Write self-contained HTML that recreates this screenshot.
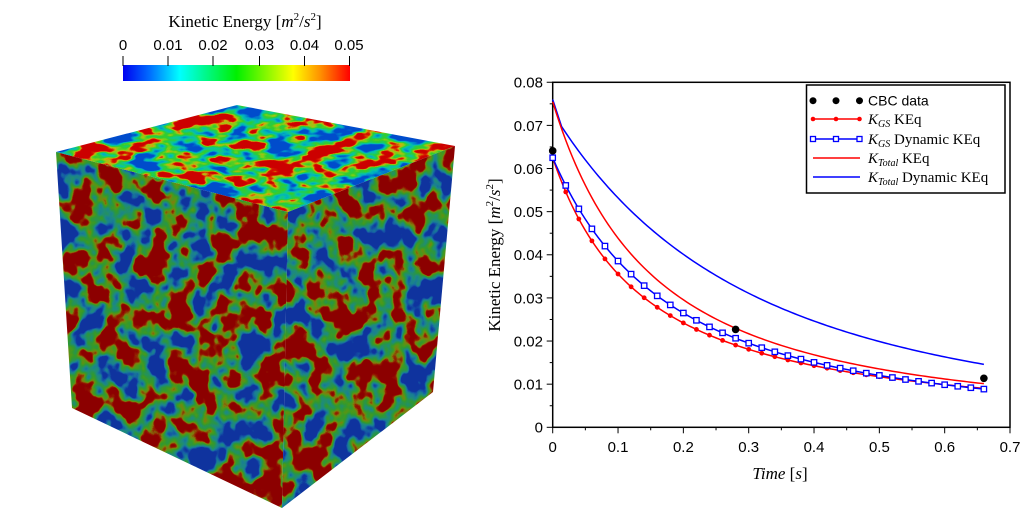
<!DOCTYPE html>
<html><head><meta charset="utf-8">
<style>
html,body{margin:0;padding:0;background:#fff;}
body{width:1036px;height:527px;overflow:hidden;}
svg{display:block;}
.sans{font-family:"Liberation Sans",sans-serif;}
.serif{font-family:"Liberation Serif",serif;}
</style></head>
<body>
<svg id="s" width="1036" height="527" viewBox="0 0 1036 527" xmlns="http://www.w3.org/2000/svg">
<defs>
  <linearGradient id="jet" x1="0" x2="1" y1="0" y2="0">
    <stop offset="0" stop-color="#0000f0"/>
    <stop offset="0.12" stop-color="#0070ff"/>
    <stop offset="0.25" stop-color="#00ffff"/>
    <stop offset="0.5" stop-color="#00f000"/>
    <stop offset="0.75" stop-color="#ffff00"/>
    <stop offset="0.87" stop-color="#ff9000"/>
    <stop offset="1" stop-color="#ff0000"/>
  </linearGradient>
  <filter id="nTop" x="0" y="0" width="100%" height="100%" color-interpolation-filters="sRGB">
    <feTurbulence type="fractalNoise" baseFrequency="0.03 0.07" numOctaves="3" seed="7"/>
    <feColorMatrix type="matrix" values="3.5 0 0 0 -1.25  3.5 0 0 0 -1.25  3.5 0 0 0 -1.25  0 0 0 0 1"/>
    <feComponentTransfer>
      <feFuncR type="table" tableValues="0 0 0 .05 .12 .20 .45 .80 .85 .80 .80"/>
      <feFuncG type="table" tableValues=".30 .50 .70 .78 .80 .80 .82 .70 .10 0 0"/>
      <feFuncB type="table" tableValues=".80 .80 .75 .60 .35 .18 .10 .05 0 0 0"/>
      <feFuncA type="table" tableValues="1 1"/>
    </feComponentTransfer>
  </filter>
  <filter id="nL" x="0" y="0" width="100%" height="100%" color-interpolation-filters="sRGB">
    <feTurbulence type="fractalNoise" baseFrequency="0.042 0.036" numOctaves="3" seed="11"/>
    <feColorMatrix type="matrix" values="3.5 0 0 0 -1.25  3.5 0 0 0 -1.25  3.5 0 0 0 -1.25  0 0 0 0 1"/>
    <feComponentTransfer>
      <feFuncR type="table" tableValues=".06 .08 .10 .12 .15 .20 .30 .50 .58 .55 .55"/>
      <feFuncG type="table" tableValues=".20 .35 .50 .55 .58 .60 .60 .50 .10 0 0"/>
      <feFuncB type="table" tableValues=".62 .65 .58 .48 .32 .18 .10 .05 0 0 0"/>
      <feFuncA type="table" tableValues="1 1"/>
    </feComponentTransfer>
  </filter>
  <filter id="nR" x="0" y="0" width="100%" height="100%" color-interpolation-filters="sRGB">
    <feTurbulence type="fractalNoise" baseFrequency="0.042 0.036" numOctaves="3" seed="23"/>
    <feColorMatrix type="matrix" values="3.5 0 0 0 -1.25  3.5 0 0 0 -1.25  3.5 0 0 0 -1.25  0 0 0 0 1"/>
    <feComponentTransfer>
      <feFuncR type="table" tableValues=".06 .08 .10 .12 .15 .20 .30 .50 .58 .55 .55"/>
      <feFuncG type="table" tableValues=".20 .35 .50 .55 .58 .60 .60 .50 .10 0 0"/>
      <feFuncB type="table" tableValues=".62 .65 .58 .48 .32 .18 .10 .05 0 0 0"/>
      <feFuncA type="table" tableValues="1 1"/>
    </feComponentTransfer>
  </filter>
  <clipPath id="cTop"><polygon points="237,105 455,146 288,212 56,152"/></clipPath>
  <clipPath id="cL"><polygon points="56,152 288,212 282,508 72,408"/></clipPath>
  <clipPath id="cR"><polygon points="288,212 455,146 433,392 282,508"/></clipPath>
</defs>

<!-- Colorbar -->
<text class="serif" x="245" y="27" text-anchor="middle" font-size="17">Kinetic Energy [<tspan font-style="italic">m</tspan><tspan dy="-7" font-size="11">2</tspan><tspan dy="7">/</tspan><tspan font-style="italic">s</tspan><tspan dy="-7" font-size="11">2</tspan><tspan dy="7">]</tspan></text>
<g class="sans" font-size="15" text-anchor="middle">
  <text x="123" y="50">0</text>
  <text x="168" y="50">0.01</text>
  <text x="213" y="50">0.02</text>
  <text x="259.5" y="50">0.03</text>
  <text x="304.5" y="50">0.04</text>
  <text x="349" y="50">0.05</text>
</g>
<rect x="123" y="65" width="227" height="16" fill="url(#jet)"/>
<g stroke="#000" stroke-width="1">
  <line x1="123" y1="56" x2="123" y2="66"/>
  <line x1="168" y1="56" x2="168" y2="66"/>
  <line x1="213" y1="56" x2="213" y2="66"/>
  <line x1="259.5" y1="56" x2="259.5" y2="66"/>
  <line x1="304.5" y1="56" x2="304.5" y2="66"/>
  <line x1="349.5" y1="56" x2="349.5" y2="66"/>
</g>

<!-- Cube -->
<g clip-path="url(#cTop)"><rect x="50" y="100" width="410" height="118" filter="url(#nTop)"/></g>
<g clip-path="url(#cL)"><rect x="50" y="148" width="245" height="365" filter="url(#nL)"/></g>
<g clip-path="url(#cR)"><rect x="278" y="140" width="182" height="372" filter="url(#nR)"/></g>

<!-- Chart axes -->
<rect x="552.7" y="82.3" width="457.3" height="345" fill="none" stroke="#000" stroke-width="1.5"/>
<g id="ticks" stroke="#000" stroke-width="1"></g>
<g class="sans" font-size="15" text-anchor="end">
  <text x="543" y="432.5">0</text>
  <text x="543" y="389.5">0.01</text>
  <text x="543" y="346.4">0.02</text>
  <text x="543" y="303.3">0.03</text>
  <text x="543" y="260.1">0.04</text>
  <text x="543" y="217">0.05</text>
  <text x="543" y="173.9">0.06</text>
  <text x="543" y="130.8">0.07</text>
  <text x="543" y="87.6">0.08</text>
</g>
<g class="sans" font-size="15" text-anchor="middle">
  <text x="552.7" y="452">0</text>
  <text x="618" y="452">0.1</text>
  <text x="683.4" y="452">0.2</text>
  <text x="748.7" y="452">0.3</text>
  <text x="814" y="452">0.4</text>
  <text x="879.4" y="452">0.5</text>
  <text x="944.7" y="452">0.6</text>
  <text x="1010" y="452">0.7</text>
</g>
<text class="serif" x="780" y="479" text-anchor="middle" font-size="17"><tspan font-style="italic">Time</tspan> [<tspan font-style="italic">s</tspan>]</text>
<text class="serif" transform="translate(500,255) rotate(-90)" text-anchor="middle" font-size="17">Kinetic Energy [<tspan font-style="italic">m</tspan><tspan dy="-7" font-size="11">2</tspan><tspan dy="7">/</tspan><tspan font-style="italic">s</tspan><tspan dy="-7" font-size="11">2</tspan><tspan dy="7">]</tspan></text>

<g id="curves"></g>

<!-- Legend -->
<rect x="806.5" y="85" width="198.5" height="108" fill="#fff" stroke="#000" stroke-width="1.5"/>
<g>
  <circle cx="813" cy="100.7" r="3.5" fill="#000"/>
  <circle cx="836" cy="100.7" r="3.5" fill="#000"/>
  <circle cx="859.5" cy="100.7" r="3.5" fill="#000"/>
  <line x1="813" y1="119" x2="860" y2="119" stroke="#f00" stroke-width="1.5"/>
  <circle cx="813" cy="119" r="2.3" fill="#f00"/>
  <circle cx="836" cy="119" r="2.3" fill="#f00"/>
  <circle cx="859.5" cy="119" r="2.3" fill="#f00"/>
  <line x1="813" y1="139" x2="860" y2="139" stroke="#00f" stroke-width="1.5"/>
  <rect x="810.5" y="136.5" width="5" height="5" fill="#fff" stroke="#00f" stroke-width="1.3"/>
  <rect x="833.5" y="136.5" width="5" height="5" fill="#fff" stroke="#00f" stroke-width="1.3"/>
  <rect x="857" y="136.5" width="5" height="5" fill="#fff" stroke="#00f" stroke-width="1.3"/>
  <line x1="813" y1="158" x2="860" y2="158" stroke="#f00" stroke-width="1.5"/>
  <line x1="813" y1="177" x2="860" y2="177" stroke="#00f" stroke-width="1.5"/>
</g>
<text class="sans" x="868" y="105.5" font-size="14">CBC data</text>
<text class="serif" x="868" y="124" font-size="15"><tspan font-style="italic">K</tspan><tspan font-style="italic" font-size="10" dy="3">GS</tspan><tspan dy="-3"> KEq</tspan></text>
<text class="serif" x="868" y="144" font-size="15"><tspan font-style="italic">K</tspan><tspan font-style="italic" font-size="10" dy="3">GS</tspan><tspan dy="-3"> Dynamic KEq</tspan></text>
<text class="serif" x="868" y="163" font-size="15"><tspan font-style="italic">K</tspan><tspan font-style="italic" font-size="10" dy="3">Total</tspan><tspan dy="-3"> KEq</tspan></text>
<text class="serif" x="868" y="182" font-size="15"><tspan font-style="italic">K</tspan><tspan font-style="italic" font-size="10" dy="3">Total</tspan><tspan dy="-3"> Dynamic KEq</tspan></text>
</svg>
<script>
(function(){
var NS="http://www.w3.org/2000/svg";
function X(t){return 552.7+t*653.3;}
function Y(v){return 427.3-v*4313;}
function el(n,a,p){var e=document.createElementNS(NS,n);for(var k in a)e.setAttribute(k,a[k]);p.appendChild(e);return e;}
var tk=document.getElementById('ticks');
for(var i=0;i<=16;i++){var v=i*0.005;var y=Y(v);var L=(i%2==0)?6:3;el('line',{x1:552.7-L,y1:y,x2:552.7,y2:y},tk);}
for(var i=0;i<=14;i++){var t=i*0.05;var x=X(t);var L=(i%2==0)?6:3;el('line',{x1:x,y1:427.3,x2:x,y2:427.3+L},tk);}
function fgs(t){return 0.0625*Math.pow(1+t/0.17,-1.22);}
function fgsd(t){return 0.0625*Math.pow(1+t/0.3,-1.68);}
function ftot(t){return 0.0755*Math.pow(1+t/0.22,-1.45);}
function ftotd(t){var t1=0.0137;if(t<t1)return 0.076+(0.0697-0.076)*t/t1;return 0.0697*Math.pow(1+(t-t1)/0.8,-2.64);}
var g=document.getElementById('curves');
function path(f,col){var d='';for(var i=0;i<=132;i++){var t=i*0.005;d+=(i?'L':'M')+X(t).toFixed(2)+','+Y(f(t)).toFixed(2);}
 if(f===ftotd){d='M'+X(0)+','+Y(0.076);for(var i=0;i<=132;i++){var t=Math.max(i*0.005,0.0137);d+='L'+X(t).toFixed(2)+','+Y(f(t)).toFixed(2);}}
 el('path',{d:d,fill:'none',stroke:col,'stroke-width':1.5},g);}
path(ftotd,'#0000ff');
path(ftot,'#ff0000');
path(fgs,'#ff0000');
for(var i=0;i<=33;i++){var t=i*0.02;el('circle',{cx:X(t),cy:Y(fgs(t)),r:2.4,fill:'#ff0000'},g);}
path(fgsd,'#0000ff');
for(var i=0;i<=33;i++){var t=i*0.02;el('rect',{x:X(t)-2.7,y:Y(fgsd(t))-2.7,width:5.4,height:5.4,fill:'#fff',stroke:'#0000ff','stroke-width':1.3},g);}
var cbc=[[0,0.0641],[0.28,0.0227],[0.66,0.01136]];
cbc.forEach(function(p){el('circle',{cx:X(p[0]),cy:Y(p[1]),r:3.8,fill:'#000'},g);});
})();
</script>
</body></html>
